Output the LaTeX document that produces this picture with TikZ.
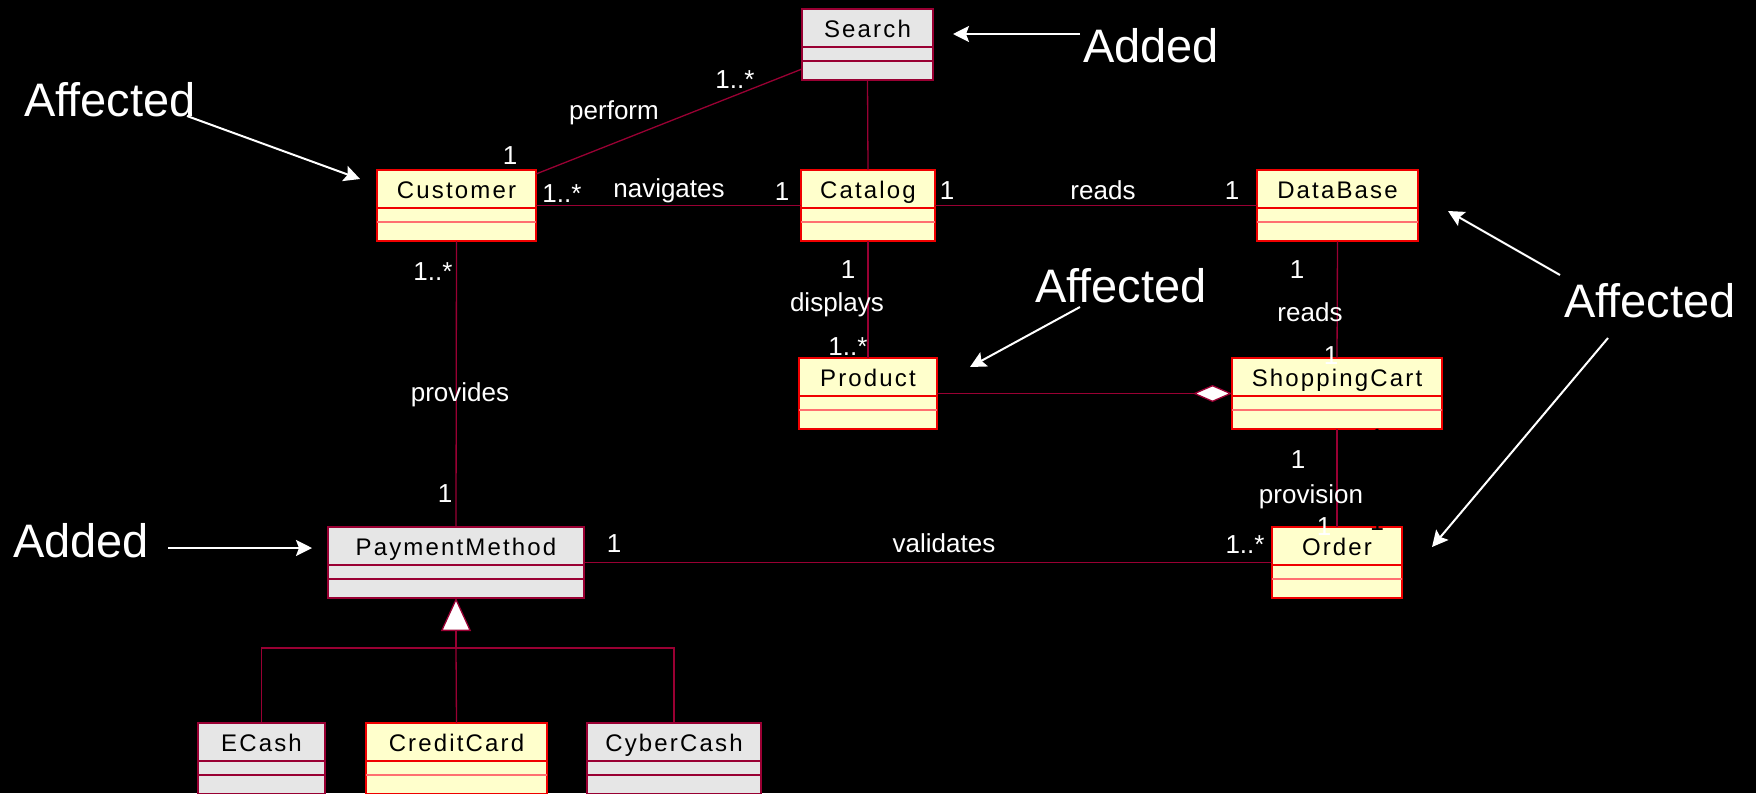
\documentclass[tikz,border=0pt]{standalone}
\usepackage{fontspec}
\setmainfont{Liberation Sans}
\newfontfamily\clsfont[LetterSpace=9]{Liberation Sans}
\usetikzlibrary{arrows.meta,calc}
\definecolor{cyellow}{HTML}{FFFFCC}
\definecolor{cred}{HTML}{F00000}
\definecolor{cpink}{HTML}{FF7070}
\definecolor{cgray}{HTML}{E6E6E6}
\definecolor{cmaroon}{HTML}{990033}
\tikzset{
  ycls/.style={draw=cred, fill=cyellow, line width=1.5pt, minimum height=71, inner sep=0pt, outer sep=0pt},
  ycls sepA/.style={draw=cred, line width=1.2pt},
  ycls sepB/.style={draw=cpink, line width=1.2pt},
  gcls/.style={draw=cmaroon, fill=cgray, line width=1.5pt, minimum height=71, inner sep=0pt, outer sep=0pt},
  gcls sepA/.style={draw=cmaroon, line width=1.2pt},
  gcls sepB/.style={draw=cmaroon, line width=1.2pt},
  clsname/.style={anchor=base, inner sep=0pt, font=\clsfont\fontsize{24}{26}\selectfont, text=black},
  lbl/.style={anchor=base, inner sep=0pt, font=\fontsize{26}{28}\selectfont, text=white},
  blbl/.style={anchor=base, inner sep=0pt, font=\fontsize{25}{28}\selectfont, text=black},
  note/.style={anchor=base west, inner sep=0pt, font=\fontsize{47}{50}\selectfont, text=white},
  assoc/.style={draw=cmaroon, line width=1.3pt},
  notearrow/.style={draw=white, line width=2pt, -{Stealth[length=16pt,width=16pt,inset=3pt]}},
}
\newcommand{\uclass}[6]{%
  \node[#2, minimum width={#5-#3}, anchor=north west] (#1) at (#3,#4) {};
  \draw[#2 sepA] ($(#1.north west)+(0,38)$) -- ($(#1.north east)+(0,38)$);
  \draw[#2 sepB] ($(#1.north west)+(0,52)$) -- ($(#1.north east)+(0,52)$);
  \node[clsname] (#1-name) at ($(#1.north)+(0,28)$) {#6};
}
\begin{document}
\begin{tikzpicture}[x=1pt,y=-1pt]
\fill[black] (0,0) rectangle (1756,793);
\useasboundingbox (0,0) rectangle (1756,793);

\uclass{search}{gcls}{802}{9}{933}{Search}
\uclass{cust}{ycls}{377}{170}{536}{Customer}
\uclass{cat}{ycls}{801}{170}{935}{Catalog}
\uclass{db}{ycls}{1257}{170}{1418}{DataBase}
\uclass{prod}{ycls}{799}{358}{937}{Product}
\uclass{cart}{ycls}{1232}{358}{1442}{ShoppingCart}
\uclass{pay}{gcls}{328}{527}{584}{PaymentMethod}
\uclass{order}{ycls}{1272}{527}{1402}{Order}
\uclass{ecash}{gcls}{198}{723}{325}{ECash}
\uclass{credit}{ycls}{366}{723}{547}{CreditCard}
\uclass{cyber}{gcls}{587}{723}{761}{CyberCash}

\draw[assoc] ($(cust.north east)+(0,4)$) -- ($(search.south west)+(0,-11)$);
\draw[assoc] (cust.east) -- (cat.west);
\draw[assoc] (cat.east) -- (db.west);
\draw[assoc] (search.south) -- (cat.north);
\draw[assoc] (cat.south) -- (prod.north);
\draw[assoc] (db.south) -- (cart.north);
\draw[assoc] (cart.south) -- (order.north);
\draw[assoc] (cust.south) -- (pay.north);
\draw[assoc] (pay.east) -- (order.west);
\draw[assoc, -{Diamond[length=39pt,width=17pt,fill=white,line width=1.3pt]}] (prod.east) -- (cart.west);

% generalization
\coordinate (gj) at (pay.south |- 0,648);
\draw[assoc] (ecash.north) |- (gj) -| (cyber.north);
\draw[assoc] (credit.north) -- (gj);
\draw[assoc, -{Triangle[open,length=33pt,width=30pt,fill=white,line width=1.3pt]}] (gj) -- (pay.south);

% multiplicities and role labels
\node[lbl] (m1) at (735,88) {1..*};
\node[lbl] (l1) at (614,119) {perform};
\node[lbl] (m2) at (510,164) {1};
\node[lbl] (m3) at (562,202) {1..*};
\node[lbl] (l2) at (669,197) {navigates};
\node[lbl] (m4) at (782,200) {1};
\node[lbl] (m5) at (947,199) {1};
\node[lbl] (l3) at (1103,199) {reads};
\node[lbl] (m6) at (1232,199) {1};
\node[lbl] (m7) at (433,280) {1..*};
\node[lbl] (l4) at (460,401) {provides};
\node[lbl] (m8) at (445,502) {1};
\node[lbl] (m9) at (848,278) {1};
\node[lbl] (l5) at (837,311) {displays};
\node[lbl] (m10) at (848,355) {1..*};
\node[lbl] (m11) at (1297,278) {1};
\node[lbl] (l6) at (1310,321) {reads};
\node[lbl] (m12) at (1331,364) {1};
\node[lbl] (m13) at (1298,468) {1};
\node[lbl] (l7) at (1311,503) {provision};
\node[lbl] (m14) at (1324,535) {1};
\node[lbl] (m15) at (1245,553) {1..*};
\node[lbl] (m16) at (614,552) {1};
\node[lbl] (l8) at (944,552) {validates};
\node[blbl] (k1) at (1377,446) {1};
\node[blbl] (k2) at (1377,530) {1};

% annotations
\node[note] (addtop) at (1083,62) {Added};
\node[note] (affl) at (24,116) {Affected};
\node[note] (affm) at (1035,302) {Affected};
\node[note] (affr) at (1564,317) {Affected};
\node[note] (addbot) at (13,557) {Added};

\coordinate (a1s) at (1080,34);   \coordinate (a1e) at (953,34);
\coordinate (a2s) at (187,116);   \coordinate (a2e) at (360,179);
\coordinate (a3s) at (1080,307);  \coordinate (a3e) at (970,367);
\coordinate (a4s) at (1560,275);  \coordinate (a4e) at (1448,211);
\coordinate (a5s) at (1608,338);  \coordinate (a5e) at (1432,547);
\coordinate (a6s) at (168,548);   \coordinate (a6e) at (312,548);
\draw[notearrow] (a1s) -- (a1e);
\draw[notearrow] (a2s) -- (a2e);
\draw[notearrow] (a3s) -- (a3e);
\draw[notearrow] (a4s) -- (a4e);
\draw[notearrow] (a5s) -- (a5e);
\draw[notearrow] (a6s) -- (a6e);
\end{tikzpicture}
\end{document}
